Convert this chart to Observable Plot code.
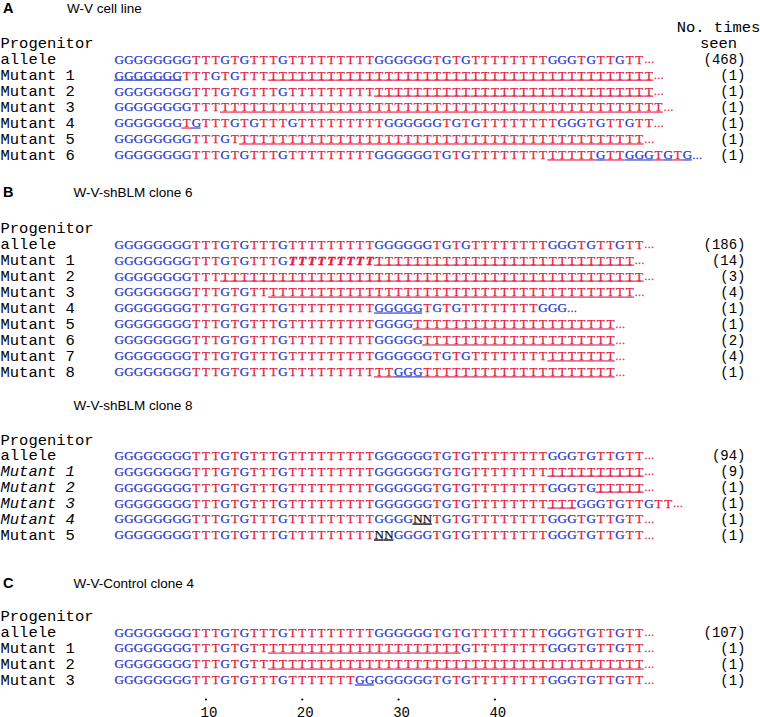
<!DOCTYPE html>
<html><head><meta charset="utf-8">
<script src="https://cdn.jsdelivr.net/npm/d3@7"></script>
<script src="https://cdn.jsdelivr.net/npm/@observablehq/plot@0.6"></script>
<style>body{margin:0;background:#fff}</style>
</head><body><div id="chart"></div>
<script>
// ---------- DATA ----------
const progenitor = "GGGGGGGG" + "TTTGTG" + "TTTG" + "TTTTTTTTT" + "GGGGGG" + "TGTG" + "TTTTTTTT" + "GGG" + "TGTTGTT";
const titles = ["W-V cell line", "W-V-shBLM clone 6", "W-V-shBLM clone 8", "W-V-Control clone 4"];
const panelLetters = ["A", "B", "", "C"];
const tickLabels = [10, 20, 30, 40];

// segments: [text, style]  "" plain, "u" underlined (changed), "b" bold italic
const labelsA = ["allele", "Mutant 1", "Mutant 2", "Mutant 3", "Mutant 4", "Mutant 5", "Mutant 6"];
const countsA = [468, 1, 1, 1, 1, 1, 1];
const seqsA = [
  [[progenitor, ""]],
  [["GGGGGGG", "u"], ["TTTGTG" + "TTT", ""], ["TTTTTTTTTT" + "TTTTTTTTTT" + "TTTTTTTTTT" + "TTTTTTTTTT", "u"]],
  [["GGGGGGGG" + "TTTGTG" + "TTTG" + "TTTTTTTTT", ""], ["TTTTTTTTTT" + "TTTTTTTTTT" + "TTTTTTTTT", "u"]],
  [["GGGGGGGG" + "TTT", ""], ["TTTTTTTTTT" + "TTTTTTTTTT" + "TTTTTTTTTT" + "TTTTTTTTTT" + "TTTTTT", "u"]],
  [["GGGGGGG", ""], ["TG", "u"], ["TTTGTG" + "TTTG" + "TTTTTTTTT" + "GGGGGG" + "TGTG" + "TTTTTTTT" + "GGG" + "TGTTGTT", ""]],
  [["GGGGGGGG" + "TTTGT", ""], ["TTTTTTTTTT" + "TTTTTTTTTT" + "TTTTTTTTTT" + "TTTTTTTTTT" + "TT", "u"]],
  [["GGGGGGGG" + "TTTGTG" + "TTTG" + "TTTTTTTTT" + "GGGGGG" + "TGTG" + "TTTTTTTT", ""], ["TTTTTGTTGGGTGTG", "u"]]
];

const labelsB6 = ["allele", "Mutant 1", "Mutant 2", "Mutant 3", "Mutant 4", "Mutant 5", "Mutant 6", "Mutant 7", "Mutant 8"];
const countsB6 = [186, 14, 3, 4, 1, 1, 2, 4, 1];
const seqsB6 = [
  [[progenitor, ""]],
  [["GGGGGGGG" + "TTTGTG" + "TTTG", ""], ["TTTTTTTTT", "b"], ["TTTTTTTTTT" + "TTTTTTTTTT" + "TTTTTTT", "u"]],
  [["GGGGGGGG" + "TTT", ""], ["TTTTTTTTTT" + "TTTTTTTTTT" + "TTTTTTTTTT" + "TTTTTTTTTT" + "TTTT", "u"]],
  [["GGGGGGGG" + "TTTGTG" + "TT", ""], ["TTTTTTTTTT" + "TTTTTTTTTT" + "TTTTTTTTTT" + "TTTTTTTT", "u"]],
  [["GGGGGGGG" + "TTTGTG" + "TTTG" + "TTTTTTTTT", ""], ["GGGGG", "u"], ["TGTG" + "TTTTTTTT" + "GGG", ""]],
  [["GGGGGGGG" + "TTTGTG" + "TTTG" + "TTTTTTTTT" + "GGGG", ""], ["TTTTTTTTTT" + "TTTTTTTTTT" + "T", "u"]],
  [["GGGGGGGG" + "TTTGTG" + "TTTG" + "TTTTTTTTT" + "GGGGG", ""], ["TTTTTTTTTT" + "TTTTTTTTTT", "u"]],
  [["GGGGGGGG" + "TTTGTG" + "TTTG" + "TTTTTTTTT" + "GGGGGG" + "TGTG" + "TTTTTTTT", ""], ["TTTTTTT", "u"]],
  [["GGGGGGGG" + "TTTGTG" + "TTTG" + "TTTTTTTTT", ""], ["TTGGG" + "TTTTTTTTTT" + "TTTTTTTTTT", "u"]]
];

const labelsB8 = ["allele", "Mutant 1", "Mutant 2", "Mutant 3", "Mutant 4", "Mutant 5"];
const italicB8 = [false, true, true, true, true, false];
const countsB8 = [94, 9, 1, 1, 1, 1];
const seqsB8 = [
  [[progenitor, ""]],
  [["GGGGGGGG" + "TTTGTG" + "TTTG" + "TTTTTTTTT" + "GGGGGG" + "TGTG" + "TTTTTTTT", ""], ["TTTTTTTTTT", "u"]],
  [["GGGGGGGG" + "TTTGTG" + "TTTG" + "TTTTTTTTT" + "GGGGGG" + "TGTG" + "TTTTTTTT" + "GGGTG", ""], ["TTTTT", "u"]],
  [["GGGGGGGG" + "TTTGTG" + "TTTG" + "TTTTTTTTT" + "GGGGGG" + "TGTG" + "TTTTTTTT", ""], ["TTT", "u"], ["GGGTGTTGTT", ""]],
  [["GGGGGGGG" + "TTTGTG" + "TTTG" + "TTTTTTTTT" + "GGGG", ""], ["NN", "u"], ["TGTG" + "TTTTTTTT" + "GGG" + "TGTTGTT", ""]],
  [["GGGGGGGG" + "TTTGTG" + "TTTG" + "TTTTTTTTT", ""], ["NN", "u"], ["GGGG" + "TGTG" + "TTTTTTTT" + "GGG" + "TGTTGTT", ""]]
];

const labelsC = ["allele", "Mutant 1", "Mutant 2", "Mutant 3"];
const countsC = [107, 1, 1, 1];
const seqsC = [
  [[progenitor, ""]],
  [["GGGGGGGG" + "TTTGTG" + "TT", ""], ["TTTTTTTTTT" + "TTTTTTTTTT", "u"], ["G" + "TTTTTTTT" + "GGG" + "TGTTGTT", ""]],
  [["GGGGGGGG" + "TTTGTG" + "TT", ""], ["TTTTTTTTTT" + "TTTTTTTTTT" + "TTTTTTTTTT" + "TTTTTTTTT", "u"]],
  [["GGGGGGGG" + "TTTGTG" + "TTTG" + "TTTTTTT", ""], ["GG", "u"], ["GGGGGG" + "TGTG" + "TTTTTTTT" + "GGG" + "TGTTGTT", ""]]
];

// ---------- LAYOUT (line units) ----------
const blockLine = [0, 11.6, 24.83, 35.92];
const titleOffset = [-2.19, -2.26, -2.13, -2.06];
const titleX = [-4.42, -3.75, -3.75, -3.75];
const blocks = [
  {labels: labelsA, seqs: seqsA, counts: countsA, italic: labelsA.map(() => false)},
  {labels: labelsB6, seqs: seqsB6, counts: countsB6, italic: labelsB6.map(() => false)},
  {labels: labelsB8, seqs: seqsB8, counts: countsB8, italic: italicB8},
  {labels: labelsC, seqs: seqsC, counts: countsC, italic: labelsC.map(() => false)}
];

const chars = [], unders = [], ends = [], labelRows = [], countRows = [], titleRows = [];
blocks.forEach((b, bi) => {
  const base = blockLine[bi];
  titleRows.push({y: base + titleOffset[bi], x: titleX[bi], title: titles[bi], letter: panelLetters[bi]});
  labelRows.push({y: base, label: "Progenitor", italic: false});
  b.seqs.forEach((segs, ri) => {
    const y = base + 1 + ri;
    let i = 0, last = "T";
    for (const [s, st] of segs) for (const ch of s) {
      i++; last = ch;
      chars.push({x: i, y, ch, st});
      if (st === "u") unders.push({x: i, y, key: "u" + ch});
    }
    ends.push({x: i, y, ch: last});
    labelRows.push({y, label: b.labels[ri], italic: b.italic[ri]});
    countRows.push({y, text: `(${b.counts[ri]})`});
  });
});

const serif = "Liberation Serif, Times New Roman, serif";
const mono = "Liberation Mono, DejaVu Sans Mono, monospace";
const sans = "Liberation Sans, Arial, sans-serif";

const chart = Plot.plot({
  width: 760,
  height: 717,
  marginLeft: 0, marginRight: 15, marginTop: 0, marginBottom: 0,
  x: {domain: [1, 2], range: [118.8, 128.43], axis: null},
  y: {domain: [0, 1], range: [43, 58.95], axis: null},
  color: {domain: ["G", "T", "N", "uG", "uT", "uN"], range: ["#2436cc", "#e41a3e", "#111111", "#5468dc", "#ee5272", "#222222"]},
  marks: [
    Plot.ruleY(unders, {y: "y", x1: d => d.x - 0.5, x2: d => d.x + 0.5, stroke: "key", strokeWidth: 1.5, dy: 4.8}),
    Plot.text(chars.filter(d => d.st !== "b"), {x: "x", y: "y", text: "ch", fill: "ch", stroke: "ch", strokeWidth: 0.25, fontFamily: serif, fontSize: 13}),
    Plot.text(chars.filter(d => d.st === "b"), {x: "x", y: "y", text: "ch", fill: "ch", stroke: "ch", strokeWidth: 0.5, fontFamily: serif, fontSize: 13, fontWeight: "bold", fontStyle: "italic"}),
    Plot.text(ends, {x: d => d.x + 0.5, y: "y", text: () => "\u2026", fill: "ch", stroke: "ch", strokeWidth: 0.3, textAnchor: "start", fontFamily: serif, fontSize: 10, dy: 0.5}),
    Plot.text(labelRows.filter(d => !d.italic), {y: "y", text: "label", frameAnchor: "left", textAnchor: "start", fontFamily: mono, fontSize: 15.5, fill: "black"}),
    Plot.text(labelRows.filter(d => d.italic), {y: "y", text: "label", frameAnchor: "left", textAnchor: "start", fontFamily: mono, fontSize: 15.5, fontStyle: "italic", fill: "black"}),
    Plot.text(countRows, {y: "y", text: "text", frameAnchor: "right", textAnchor: "end", fontFamily: mono, fontSize: 14, fill: "black"}),
    Plot.text(["No. times", "seen"], {y: (d, i) => i - 1.02, text: d => d, frameAnchor: "right", textAnchor: "middle", dx: -27, fontFamily: mono, fontSize: 15.5, fill: "black"}),
    Plot.text(titleRows, {x: "x", y: "y", text: "title", textAnchor: "start", fontFamily: sans, fontSize: 13.5, fill: "black"}),
    Plot.text(titleRows, {y: "y", text: "letter", frameAnchor: "left", textAnchor: "start", dx: 2.5, fontFamily: sans, fontWeight: "bold", fontSize: 14.5, fill: "black"}),
    Plot.dot(tickLabels, {x: d => d, y: () => 41.13, r: 1.1, fill: "black"}),
    Plot.text(tickLabels, {x: d => d, y: () => 41.92, text: d => String(d), dx: 3, fontFamily: mono, fontSize: 14, fill: "black"})
  ]
});
document.getElementById("chart").appendChild(chart);
</script>
</body></html>
